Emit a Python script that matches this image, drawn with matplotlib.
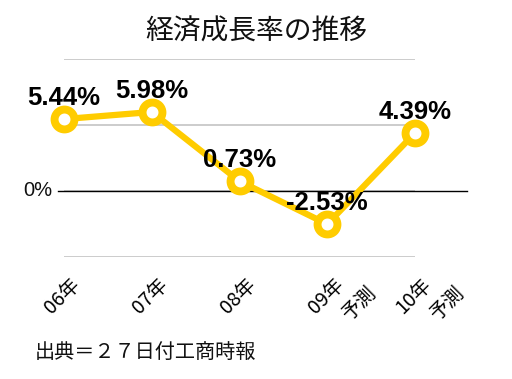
import matplotlib
matplotlib.use("Agg")
import matplotlib.pyplot as plt

plt.rcParams['font.family'] = ['Noto Sans CJK JP', 'DejaVu Sans']

categories = ["06年", "07年", "08年", "09年", "10年"]
sub_labels = ["", "", "", "予測", "予測"]
values = [5.44, 5.98, 0.73, -2.53, 4.39]
value_labels = ["5.44%", "5.98%", "0.73%", "-2.53%", "4.39%"]
title = "経済成長率の推移"
source = "出典＝２７日付工商時報"

color = "#FFCC00"

fig = plt.figure(figsize=(5.12, 3.79), dpi=100)
ax = fig.add_axes([64/512, 1-256.7/379, 351/512, (256.7-59)/379])
ax.set_xlim(0, len(categories)-1)
ax.set_ylim(-5, 10)
for s in ax.spines.values():
    s.set_visible(False)
ax.set_xticks([])
ax.set_yticks([])

for g in [10, 5, 0, -5]:
    ax.axhline(g, color="#c8c8c8", lw=1.3, zorder=1)
ax.axhline(0, xmin=-6/351, xmax=(467-64)/351, color="black", lw=1.0, zorder=2, clip_on=False)
ax.annotate("0%", xy=(0, 0), xytext=(-8.5, 0.5), textcoords="offset points",
            ha="right", va="center", fontsize=14.5, family=["Liberation Sans"],
            color="#111111", annotation_clip=False)

x = list(range(len(categories)))
ax.plot(x, values, color=color, lw=4.5, marker="o", ms=14.3, mew=5.7,
        mfc="white", mec=color, zorder=3, clip_on=False)

for xi, v, lab in zip(x, values, value_labels):
    ax.annotate(lab, xy=(xi, v), xytext=(0, 15), textcoords="offset points",
                ha="center", va="center", fontsize=18.5, fontweight="bold",
                family=["Liberation Sans"], color="black", zorder=4)

for xi, cat, sub in zip(x, categories, sub_labels):
    ax.annotate(cat, xy=(xi, 0), xycoords=("data", "axes fraction"),
                xytext=(-1, -28.5), textcoords="offset points",
                ha="center", va="center", rotation=45, rotation_mode="anchor",
                fontsize=14, color="black")
    if sub:
        ax.annotate(sub, xy=(xi, 0), xycoords=("data", "axes fraction"),
                    xytext=(23, -33.5), textcoords="offset points",
                    ha="center", va="center", rotation=45, rotation_mode="anchor",
                    fontsize=14, color="black")

fig.text(0.5, 1-32/379, title, ha="center", va="center", fontsize=20, color="#111111")
fig.text(35/512, 1-352/379, source, ha="left", va="center", fontsize=14.5, color="#111111")

fig.savefig("out.png", dpi=100)
